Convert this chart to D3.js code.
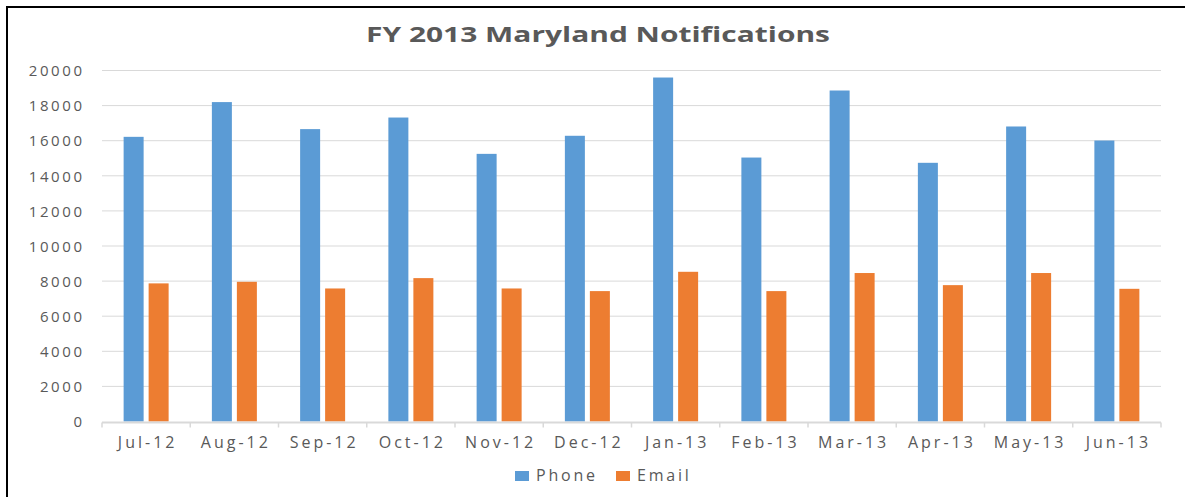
<!DOCTYPE html>
<html>
<head>
<meta charset="utf-8">
<script src="https://cdn.jsdelivr.net/npm/d3@7"></script>
<style>
  html, body { margin: 0; padding: 0; background: #fff; }
  svg { display: block; }
  text { font-family: "Open Sans", "Liberation Sans", sans-serif; fill: #595959; }
</style>
</head>
<body>
<svg id="chart" width="1185" height="497"></svg>
<script>
const categories = ["Jul-12","Aug-12","Sep-12","Oct-12","Nov-12","Dec-12","Jan-13","Feb-13","Mar-13","Apr-13","May-13","Jun-13"];
const seriesNames = ["Phone", "Email"];
const phone = [16220, 18200, 16660, 17320, 15250, 16280, 19600, 15040, 18860, 14740, 16810, 16010];
const email = [7870, 7960, 7580, 8170, 7580, 7430, 8530, 7430, 8460, 7770, 8460, 7560];
const yTicks = [0, 2000, 4000, 6000, 8000, 10000, 12000, 14000, 16000, 18000, 20000];
const title = "FY 2013 Maryland Notifications";
const colors = ["#5B9BD5", "#ED7D31"];

const svg = d3.select("#chart");
const margin = {left: 102, right: 1161, top: 70.5, bottom: 421.5};

// frame
svg.append("rect").attr("x", 7).attr("y", 7).attr("width", 1200).attr("height", 520)
  .attr("fill", "none").attr("stroke", "#000").attr("stroke-width", 2);

const x0 = d3.scaleBand().domain(categories).range([margin.left, margin.right]).paddingInner(0).paddingOuter(0);
const x1 = d3.scaleBand().domain(seriesNames).range([0, 45]).paddingInner(0.2);
const y = d3.scaleLinear().domain([0, 20000]).range([margin.bottom, margin.top]);

// gridlines
svg.append("g").selectAll("line").data(yTicks.filter(d => d > 0)).join("line")
  .attr("x1", margin.left).attr("x2", margin.right)
  .attr("y1", d => y(d)).attr("y2", d => y(d))
  .attr("stroke", "#d9d9d9").attr("stroke-width", 1);

// y axis labels
const yLS = 2.6;
const yAxis = d3.axisLeft(y).tickValues(yTicks).tickSize(0).tickPadding(0).tickFormat(d3.format("d"));
const gy = svg.append("g").attr("transform", `translate(${82 + yLS},0)`).call(yAxis);
gy.select(".domain").remove();
gy.selectAll("text").attr("font-size", "15px").attr("letter-spacing", yLS + "px")
  .attr("fill", "#595959").attr("font-family", "'Open Sans', sans-serif").attr("dy", "0.35em");

// bars
const data = categories.map((c, i) => ({cat: c, vals: [phone[i], email[i]]}));
const groups = svg.append("g").selectAll("g").data(data).join("g")
  .attr("transform", d => `translate(${x0(d.cat) + x0.bandwidth() / 2 - 22.5},0)`);
groups.selectAll("rect").data(d => d.vals.map((v, j) => ({name: seriesNames[j], v, j}))).join("rect")
  .attr("x", d => x1(d.name))
  .attr("width", x1.bandwidth())
  .attr("y", d => y(d.v))
  .attr("height", d => y(0) - y(d.v))
  .attr("fill", d => colors[d.j]);

// x axis
const xLS = 3;
const xAxis = d3.axisBottom(x0).tickSize(0).tickPadding(0);
const gx = svg.append("g").attr("transform", `translate(0,${margin.bottom + 1})`).call(xAxis);
gx.select(".domain").remove();
gx.selectAll("text").attr("font-size", "16px").attr("letter-spacing", xLS + "px")
  .attr("fill", "#595959").attr("font-family", "'Open Sans', sans-serif")
  .attr("dy", "0").attr("y", 25).attr("dx", xLS / 2);
svg.append("line").attr("x1", margin.left).attr("x2", margin.right)
  .attr("y1", margin.bottom + 1).attr("y2", margin.bottom + 1)
  .attr("stroke", "#d9d9d9").attr("stroke-width", 2);
const boundaries = categories.map(c => x0(c)).concat([margin.right]);
svg.append("g").selectAll("line").data(boundaries).join("line")
  .attr("x1", d => d).attr("x2", d => d)
  .attr("y1", margin.bottom + 1).attr("y2", margin.bottom + 6)
  .attr("stroke", "#d9d9d9").attr("stroke-width", 1.5);

// title
svg.append("text").attr("x", 598).attr("y", 42).attr("text-anchor", "middle")
  .attr("font-size", "21px").attr("font-weight", "bold").attr("fill", "#595959")
  .attr("textLength", 464).attr("lengthAdjust", "spacingAndGlyphs")
  .text(title);

// legend
const legendX = [515, 616];
const leg = svg.append("g").selectAll("g").data(seriesNames).join("g")
  .attr("transform", (d, i) => `translate(${legendX[i]},471)`);
leg.append("rect").attr("width", 14).attr("height", 10).attr("fill", (d, i) => colors[i]);
leg.append("text").attr("x", 21).attr("y", 10).attr("font-size", "16px").attr("letter-spacing", "2.8px")
  .text(d => d);
</script>
</body>
</html>
